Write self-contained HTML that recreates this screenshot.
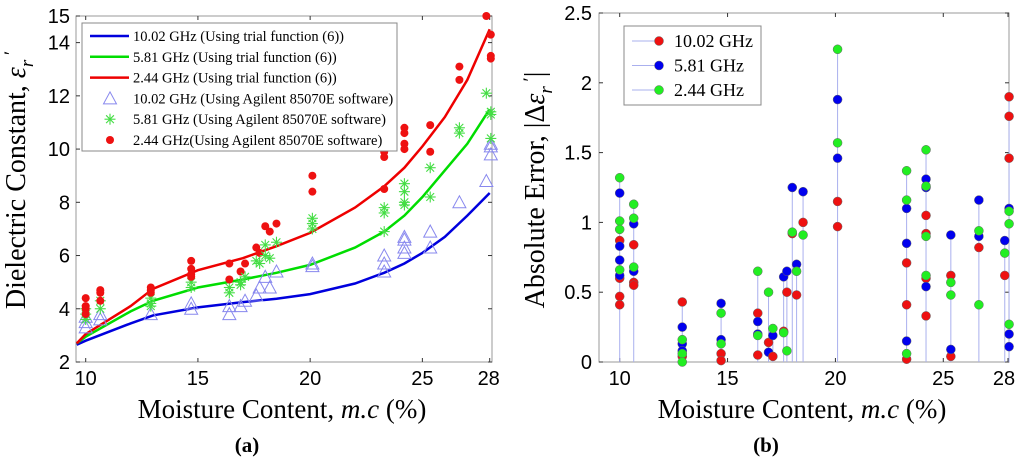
<!DOCTYPE html>
<html><head><meta charset="utf-8"><style>
html,body{margin:0;padding:0;background:#fff;width:1024px;height:465px;overflow:hidden}
svg text{font-family:"Liberation Sans",sans-serif}
.serif{font-family:"Liberation Serif",serif}
</style></head><body>
<svg id="svg" width="1024" height="465" viewBox="0 0 1024 465" xmlns="http://www.w3.org/2000/svg">
<g id="ca"></g>
<g id="cb"></g>
<text class="serif" x="247" y="452" font-size="21" font-weight="bold" text-anchor="middle">(a)</text>
<text class="serif" x="766" y="452" font-size="21" font-weight="bold" text-anchor="middle">(b)</text>
</svg>
<script>
// ---------- Chart (a) data ----------
const aX = [10,10.65,12.9,14.7,16.4,16.9,17.1,17.6,17.75,18.0,18.2,18.5,20.1,23.3,24.2,25.35,26.65,27.85,28.05];
const aRed = [[4.4,4.1,4.0,3.8],[4.7,4.6,4.3],[4.8,4.7,4.6],[5.8,5.5,5.3,5.2],[5.7,5.1],[5.4],[5.7],[6.3],[6.1],[7.1],[6.9],[7.2],[9.0,8.4],[9.9,9.7,8.5],[10.8,10.6,10.2,10.0],[10.9,9.9],[13.1,12.6],[15],[14.3,13.5,13.4]];
const aGreen = [[4.0,3.8,3.6],[4.3,4.0],[4.4,4.2,4.1],[5.0,4.8],[4.8,4.6],[5.0,4.9],[5.2],[5.8],[5.7],[6.4,6.0],[5.9],[6.5],[7.4,7.2,7.0],[7.8,7.6,6.9],[8.7,8.4,8.0,7.9],[9.3,8.2],[10.8,10.6],[12.1],[11.4,11.3,10.4]];
const aBlue = [[3.7,3.5,3.3],[3.8,3.6],[3.8],[4.2,4.0],[4.1,3.8],[4.1],[4.3],[4.5],[4.8],[5.2],[4.8],[5.4],[5.7,5.6],[6.0,5.7,5.4],[6.7,6.6,6.3,6.1],[6.9,6.3],[8.0],[8.8],[10.2,10.1,9.8]];
const curveX = [9.6,10,12,13,15,17,18.5,20,22,23.3,24.2,25,26,27,28];
const curveBlue = [2.65,2.8,3.45,3.75,4.05,4.25,4.38,4.55,4.95,5.35,5.7,6.1,6.7,7.5,8.35];
const curveGreen = [2.7,2.95,3.9,4.3,4.8,5.1,5.35,5.65,6.3,6.9,7.5,8.2,9.2,10.2,11.5];
const curveRed = [2.7,3.05,4.1,4.75,5.45,5.9,6.35,6.85,7.8,8.6,9.3,10.1,11.2,12.6,14.5];
const aYTicks = [2,4,6,8,10,12,14,15];
const xTicks = [10,15,20,25,28];
// ---------- Chart (b) data ----------
const bRed = [[0.87,0.6,0.47,0.41],[0.84,0.57,0.55],[0.43,0.04],[0.06,0.01],[0.35,0.05],[0.14],[0.04],[0.22],[0.5],[0.92],[0.48],[1.0],[1.15,0.97],[0.71,0.41,0.02],[1.05,0.92,0.6,0.33],[0.62,0.04],[0.82],[0.62],[1.9,1.76,1.46]];
const bBlue = [[1.21,0.83,0.73,0.62],[0.99,0.65],[0.25,0.13,0.08],[0.42,0.16],[0.29,0.2],[0.07],[0.19],[0.61],[0.65],[1.25],[0.7],[1.22],[1.88,1.46],[1.1,0.85,0.15],[1.31,1.25,0.54],[0.91,0.09],[1.16,0.9],[0.87],[1.1,0.2,0.11]];
const bGreen = [[1.32,1.01,0.95,0.66],[1.13,1.03,0.68],[0.16,0.06,0.0],[0.35,0.13],[0.65,0.19],[0.5],[0.24],[0.21],[0.08],[0.93],[0.65],[0.91],[2.24,1.57],[1.37,1.16,0.06],[1.52,1.26,0.9,0.62],[0.57,0.48],[0.94,0.41],[0.78],[1.08,0.99,0.27]];
const bYTicks = [0,0.5,1,1.5,2,2.5];
const bYLabels = ['0','0.5','1','1.5','2','2.5'];

const NS='http://www.w3.org/2000/svg';
function mk(p,t,a){const e=document.createElementNS(NS,t);for(const k in a)e.setAttribute(k,a[k]);p.appendChild(e);return e;}

// ===== Chart A =====
const A=document.getElementById('ca');
const aL=76,aR=492,aT=16,aB=362;
const ax=v=>85.7+(v-10)*(489.7-85.7)/18;
const ay=v=>aB-(v-2)*(aB-aT)/13;
let fr=mk(A,'rect',{x:aL,y:aT,width:aR-aL,height:aB-aT,fill:'#fff',stroke:'#999','stroke-width':1});


aYTicks.forEach(v=>{
  mk(A,'line',{x1:aL,x2:aL+4,y1:ay(v),y2:ay(v),stroke:'#333'});
  mk(A,'line',{x1:aR,x2:aR-4,y1:ay(v),y2:ay(v),stroke:'#333'});
  const t=mk(A,'text',{x:70,y:ay(v)+7,'font-size':20,'text-anchor':'end'});t.textContent=v;
  
  
});
xTicks.forEach(v=>{
  mk(A,'line',{x1:ax(v),x2:ax(v),y1:aB,y2:aB-4,stroke:'#333'});
  mk(A,'line',{x1:ax(v),x2:ax(v),y1:aT,y2:aT+4,stroke:'#333'});
  const t=mk(A,'text',{x:ax(v)+(v===28?-1:0),y:385,'font-size':20,'text-anchor':'middle'});t.textContent=v;
  
  
});
function curve(g,xs,ys,col,name){
  const d=xs.map((x,i)=>(i?'L':'M')+ax(x).toFixed(1)+','+ay(ys[i]).toFixed(1)).join(' ');
  const p=mk(g,'path',{d:d,fill:'none',stroke:col,'stroke-width':2.5});
  
  
}
curve(A,curveX,curveBlue,'#0000dd','curve-10ghz');
curve(A,curveX,curveGreen,'#00dd00','curve-5ghz');
curve(A,curveX,curveRed,'#ee0000','curve-2ghz');
function tri(g,cx,cy){const p=mk(g,'polygon',{points:`${cx-6.5},${cy+5.5} ${cx+6.5},${cy+5.5} ${cx},${cy-6.5}`,fill:'none',stroke:'#8888ee','stroke-width':1});return p;}
function star(g,cx,cy){const gg=mk(g,'g',{stroke:'#44dd44','stroke-width':1.1});
  for(let k=0;k<4;k++){const a=k*Math.PI/4;mk(gg,'line',{x1:cx-5.5*Math.cos(a),y1:cy-5.5*Math.sin(a),x2:cx+5.5*Math.cos(a),y2:cy+5.5*Math.sin(a)});}return gg;}
aX.forEach((x,i)=>{
  aBlue[i].forEach(v=>{const m=tri(A,ax(x),ay(v));
    
    });
  aGreen[i].forEach(v=>{const m=star(A,ax(x),ay(v));
    
    });
  aRed[i].forEach(v=>{const m=mk(A,'circle',{cx:ax(x),cy:ay(v),r:4,fill:'#ee1111'});
    
    });
});
// legend A
const LA=mk(A,'g',{});


mk(LA,'rect',{x:82,y:23,width:315,height:128,fill:'#fff',stroke:'#888'});
const legA=[['line','#0000dd','10.02 GHz (Using trial function (6))'],['line','#00dd00','5.81 GHz (Using trial function (6))'],['line','#ee0000','2.44 GHz (Using trial function (6))'],['tri','','10.02 GHz (Using Agilent 85070E software)'],['star','','5.81 GHz (Using Agilent 85070E software)'],['dot','','2.44 GHz(Using Agilent 85070E software)']];
legA.forEach((e,i)=>{
  const y=36+i*20.8;
  if(e[0]==='line')mk(LA,'line',{x1:90,x2:129,y1:y,y2:y,stroke:e[1],'stroke-width':2.5});
  else if(e[0]==='tri')tri(LA,110,y);
  else if(e[0]==='star')star(LA,110,y);
  else mk(LA,'circle',{cx:110,cy:y,r:4,fill:'#ee1111'});
  const t=mk(LA,'text',{x:133,y:y+5,'font-size':14.5,class:'serif'});t.textContent=e[2];
  
  
});
let t=mk(A,'text',{x:282,y:418,'font-size':27,'text-anchor':'middle',class:'serif'});
t.innerHTML='Moisture Content, <tspan font-style="italic">m.c</tspan> (%)';


t=mk(A,'text',{x:0,y:0,'font-size':28,'text-anchor':'middle',class:'serif',transform:'translate(25,180) rotate(-90)'});
t.innerHTML='Dielectric Constant, <tspan font-style="italic">ε</tspan><tspan font-style="italic" font-size="19" dy="8">r</tspan><tspan dy="-16" font-size="19"> ′</tspan>';



// ===== Chart B =====
const B=document.getElementById('cb');
const bL=599,bR=1009,bT=13,bB=362;
const bx=v=>619.7+(v-10)*(1008-619.7)/18;
const by=v=>bB-v*(bB-bT)/2.5;
fr=mk(B,'rect',{x:bL,y:bT,width:bR-bL,height:bB-bT,fill:'#fff',stroke:'#999'});


bYTicks.forEach((v,i)=>{
  mk(B,'line',{x1:bL,x2:bL+4,y1:by(v),y2:by(v),stroke:'#333'});
  mk(B,'line',{x1:bR,x2:bR-4,y1:by(v),y2:by(v),stroke:'#333'});
  const tt=mk(B,'text',{x:592,y:by(v)+7,'font-size':20,'text-anchor':'end'});tt.textContent=bYLabels[i];
  
  
});
xTicks.forEach(v=>{
  mk(B,'line',{x1:bx(v),x2:bx(v),y1:bB,y2:bB-4,stroke:'#333'});
  mk(B,'line',{x1:bx(v),x2:bx(v),y1:bT,y2:bT+4,stroke:'#333'});
  const tt=mk(B,'text',{x:bx(v)+(v===28?-4:0),y:385,'font-size':20,'text-anchor':'middle'});tt.textContent=v;
  
  
});
aX.forEach((x,i)=>{
  const mx=Math.max(...bRed[i],...bBlue[i],...bGreen[i]);
  const s=mk(B,'line',{x1:bx(x),x2:bx(x),y1:by(0),y2:by(mx),stroke:'#aab0ee','stroke-width':1});
  
  
});
function dot(g,x,v,col){const c=mk(g,'circle',{cx:bx(x),cy:by(v),r:4.5,fill:col,stroke:'#666','stroke-width':0.5});return c;}
aX.forEach((x,i)=>{
  bRed[i].forEach(v=>{const c=dot(B,x,v,'#ee1111');
    
    });
  bBlue[i].forEach(v=>{const c=dot(B,x,v,'#0000ee');
    
    });
  bGreen[i].forEach(v=>{const c=dot(B,x,v,'#22ee22');
    
    });
});
const LB=mk(B,'g',{});


mk(LB,'rect',{x:624,y:26,width:137,height:79,fill:'#fff',stroke:'#888'});
[['#ee1111','10.02 GHz'],['#0000ee','5.81 GHz'],['#22ee22','2.44 GHz']].forEach((e,i)=>{
  const y=41+i*24.5;
  mk(LB,'line',{x1:632,x2:660,y1:y,y2:y,stroke:'#aab0ee'});
  mk(LB,'circle',{cx:659,cy:y,r:4.5,fill:e[0],stroke:'#666','stroke-width':0.5});
  const tt=mk(LB,'text',{x:674,y:y+6,'font-size':18,class:'serif'});tt.textContent=e[1];
  
  
});
t=mk(B,'text',{x:802,y:418,'font-size':27,'text-anchor':'middle',class:'serif'});
t.innerHTML='Moisture Content, <tspan font-style="italic">m.c</tspan> (%)';


t=mk(B,'text',{x:0,y:0,'font-size':28,'text-anchor':'middle',class:'serif',transform:'translate(544,190) rotate(-90)'});
t.innerHTML='Absolute Error, |Δ<tspan font-style="italic">ε</tspan><tspan font-style="italic" font-size="19" dy="8">r</tspan><tspan dy="-16" font-size="19"> ′</tspan><tspan dy="8">|</tspan>';


</script>
</body></html>
